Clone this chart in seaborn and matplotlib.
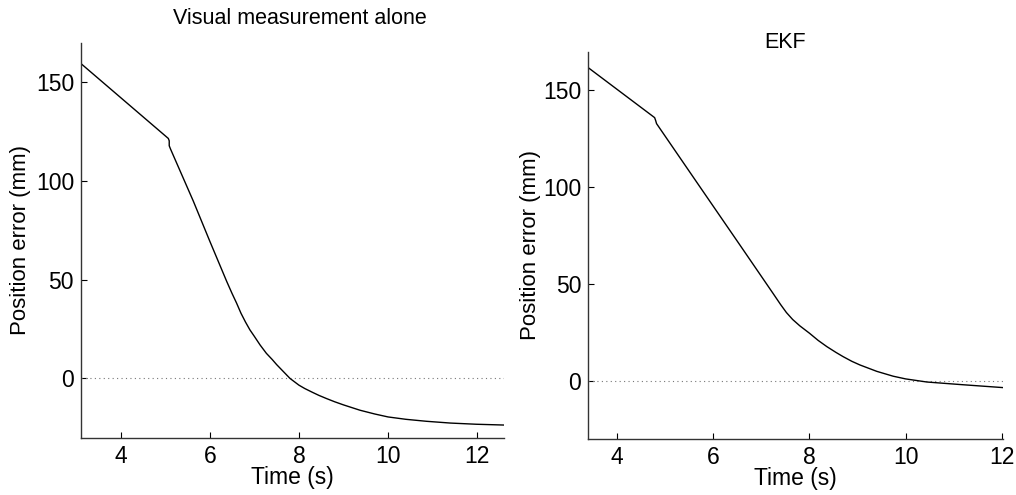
import numpy as np
import pandas as pd
import matplotlib
matplotlib.use('Agg')
import matplotlib.pyplot as plt
import seaborn as sns

sns.set_theme(style='white')
plt.rcParams['font.family'] = ['Liberation Sans', 'DejaVu Sans']
plt.rcParams['text.color'] = 'black'
plt.rcParams['axes.labelcolor'] = 'black'

# --- values ---
t_visual = [3.11, 5.07, 5.09, 5.09, 5.12, 5.63, 6.00, 6.38, 6.50, 6.60, 6.70, 6.80,
            6.90, 7.00, 7.13, 7.27, 7.40, 7.50, 7.65, 7.80, 8.00, 8.13, 8.30, 8.45,
            8.62, 8.80, 9.00, 9.37, 9.70, 10.0, 10.4, 10.86, 11.4, 11.98, 12.6]
e_visual = [159.4, 121.5, 120.3, 117.8, 116.1, 89.8, 69.5, 49.1, 43.0, 38.2, 33.0, 28.6,
            24.6, 21.3, 16.9, 12.7, 9.6, 7.0, 3.5, 0.0, -3.4, -5.1, -7.0, -8.6,
            -10.2, -11.8, -13.4, -16.1, -18.0, -19.5, -20.7, -21.7, -22.6, -23.2, -23.6]

t_ekf = [3.40, 4.78, 4.80, 4.82, 5.72, 6.55, 7.25, 7.40, 7.52, 7.65, 7.80, 8.00, 8.18,
         8.36, 8.55, 8.70, 8.88, 9.05, 9.40, 9.74, 10.0, 10.44, 11.13, 12.03]
e_ekf = [161.7, 135.9, 134.5, 132.8, 100.2, 70.2, 44.8, 39.3, 35.2, 31.6, 28.3, 24.5, 20.8,
         17.6, 14.6, 12.4, 10.0, 8.1, 4.8, 2.3, 0.9, -0.7, -2.0, -3.6]

panels = [
    ('Visual measurement alone', t_visual, e_visual, (3.11, 12.6)),
    ('EKF', t_ekf, e_ekf, (3.40, 12.03)),
]
xticks = [4, 6, 8, 10, 12]
yticks = [0, 50, 100, 150]

fig = plt.figure(figsize=(10.16, 4.95), dpi=100)
rects = [[0.0797, 0.1158, 0.4163, 0.798], [0.5790, 0.1137, 0.4085, 0.782]]
title_pos = [(0.295, 0.962), (0.773, 0.915)]
ylabel_pads = [3.5, 1.5]

for (title, t, e, xl), rect, tp, lp in zip(panels, rects, title_pos, ylabel_pads):
    ax = fig.add_axes(rect)
    df = pd.DataFrame({'Time (s)': t, 'Position error (mm)': e})
    ax.axhline(0, color='#777777', ls=(0, (1, 3)), lw=0.8)
    sns.lineplot(data=df, x='Time (s)', y='Position error (mm)', ax=ax,
                 color='black', lw=1.0, sort=False, estimator=None)
    ax.set_xlim(*xl)
    ax.set_ylim(-30, 170)
    ax.set_xticks(xticks)
    ax.set_yticks(yticks)
    ax.tick_params(direction='in', length=4, width=0.8, labelsize=16.5,
                   colors='black', pad=5, bottom=True, left=True)
    for s in ['top', 'right']:
        ax.spines[s].set_visible(False)
    for s in ['left', 'bottom']:
        ax.spines[s].set_color('#333333')
        ax.spines[s].set_linewidth(1.0)
    ax.set_xlabel('Time (s)', fontsize=16.5, labelpad=-1)
    ax.set_ylabel('Position error (mm)', fontsize=16, labelpad=lp)
    fig.text(tp[0], tp[1], title, ha='center', va='center', fontsize=15.5)

fig.savefig('out.png', dpi=100)
